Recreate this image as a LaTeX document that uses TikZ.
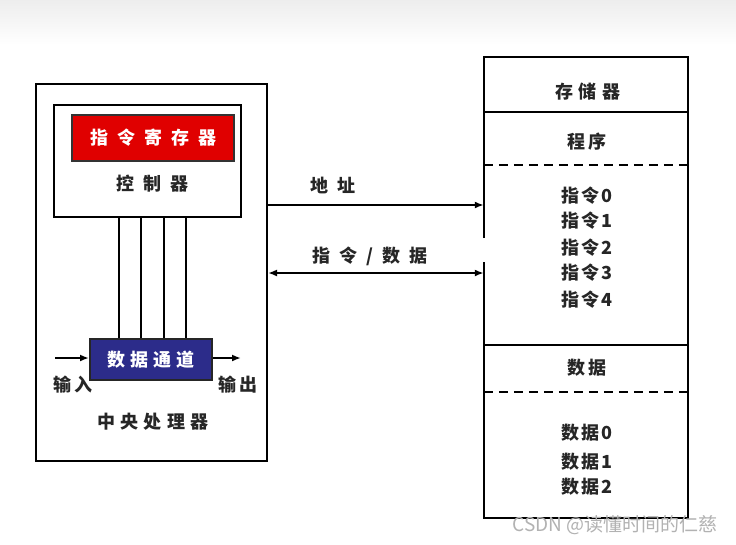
\documentclass[tikz,border=0pt]{standalone}
\usepackage{fontspec}
\usetikzlibrary{arrows.meta}
\newfontfamily\cjk[LetterSpace=12]{Noto Sans CJK SC}
\newfontfamily\cjkw[LetterSpace=28]{Noto Sans CJK SC}
\newfontfamily\cjkx[LetterSpace=50]{Noto Sans CJK SC}
\newfontfamily\wmfont{Noto Sans CJK SC}
\definecolor{irred}{HTML}{E00000}
\definecolor{dpblue}{HTML}{2C2C8A}
\tikzset{
  box/.style={draw=black, line width=2pt, fill=white, inner sep=0pt},
  lbl/.style={font=\cjk\bfseries\fontsize{18}{20}\selectfont, inner sep=0pt, text=black!85},
  wlbl/.style={font=\cjkw\bfseries\fontsize{18}{20}\selectfont, inner sep=0pt, text=black!85},
  xlbl/.style={font=\cjkx\bfseries\fontsize{18}{20}\selectfont, inner sep=0pt, text=black!85},
  conn/.style={line width=1.8pt, -{Latex[length=9pt,width=7pt]}},
  bus/.style={line width=1.8pt},
  sep/.style={line width=2pt},
  dsep/.style={line width=2pt, dash pattern=on 9pt off 6pt}
}
\begin{document}
\begin{tikzpicture}[x=1pt,y=-1pt]
\useasboundingbox (0,0) rectangle (736,544);
\fill[white] (0,0) rectangle (736,544);
\shade[top color=gray!14, bottom color=white] (0,0) rectangle (736,45);

% CPU
\node[box, minimum width=231pt, minimum height=377pt] (cpu) at (151.5,272.5) {};
\node[box, minimum width=187pt, minimum height=112pt] (ctrl) at (147.5,161) {};
\node[box, xlbl, fill=irred, draw=black!80, minimum width=162pt, minimum height=46pt, text=white] (ir) at (153,138) {指令寄存器};
\node[xlbl] (ctrltext) at (152,184) {控制器};
\node[box, wlbl, fill=dpblue, draw=black!85, minimum width=122pt, minimum height=41pt, text=white] (dp) at (151,359.5) {数据通道};

\foreach \x [count=\i] in {119,141,164,186} {
  \coordinate (v\i) at (\x,0);
  \draw[bus] (v\i |- ctrl.south) -- (v\i |- dp.north);
}

\coordinate (inL) at (55,358);
\coordinate (outR) at (241,358);
\draw[conn] (inL) -- (inL -| dp.west);
\draw[conn] (dp.east |- outR) -- (outR);
\node[lbl] (in) at (73,385) {输入};
\node[lbl] (out) at (238,385) {输出};
\node[wlbl] (cpulbl) at (153,422) {中央处理器};

% Memory
\node[minimum width=204pt, minimum height=461pt, inner sep=0pt] (mem) at (586,287.5) {};
\coordinate (gapT) at (0,238);
\coordinate (gapB) at (0,262);
\draw[line width=2pt] (mem.west |- gapT) -- (mem.north west) -- (mem.north east) -- (mem.south east) -- (mem.south west) -- (mem.west |- gapB);
\coordinate (s1) at (0,112);
\coordinate (s2) at (0,165);
\coordinate (s3) at (0,345);
\coordinate (s4) at (0,392);
\draw[sep] (mem.west |- s1) -- (mem.east |- s1);
\draw[sep] (mem.west |- s3) -- (mem.east |- s3);
\draw[dsep] (mem.west |- s2) -- (mem.east |- s2);
\draw[dsep] (mem.west |- s4) -- (mem.east |- s4);

\node[wlbl] (m0) at (588,92) {存储器};
\node[lbl] (m1) at (587,142) {程序};
\node[lbl] (i0) at (587,196) {指令0};
\node[lbl] (i1) at (587,221) {指令1};
\node[lbl] (i2) at (587,248) {指令2};
\node[lbl] (i3) at (587,273) {指令3};
\node[lbl] (i4) at (587,300) {指令4};
\node[lbl] (m2) at (587,368) {数据};
\node[lbl] (d0) at (587,433) {数据0};
\node[lbl] (d1) at (587,462) {数据1};
\node[lbl] (d2) at (587,487) {数据2};

% Buses between CPU and memory
\coordinate (a1) at (0,205);
\coordinate (a2) at (0,273);
\draw[conn] (cpu.east |- a1) -- (mem.west |- a1);
\draw[line width=1.8pt, {Latex[length=9pt,width=7pt]}-{Latex[length=9pt,width=7pt]}] (cpu.east |- a2) -- (mem.west |- a2);
\node[xlbl] (addr) at (333,185) {地址};
\node[xlbl] (idata) at (370,256) {指令/数据};

% watermark
\node[font=\wmfont\fontsize{19}{21}\selectfont, text=gray!60, inner sep=0pt] (wm) at (615,525) {CSDN @读懂时间的仁慈};
\end{tikzpicture}
\end{document}
